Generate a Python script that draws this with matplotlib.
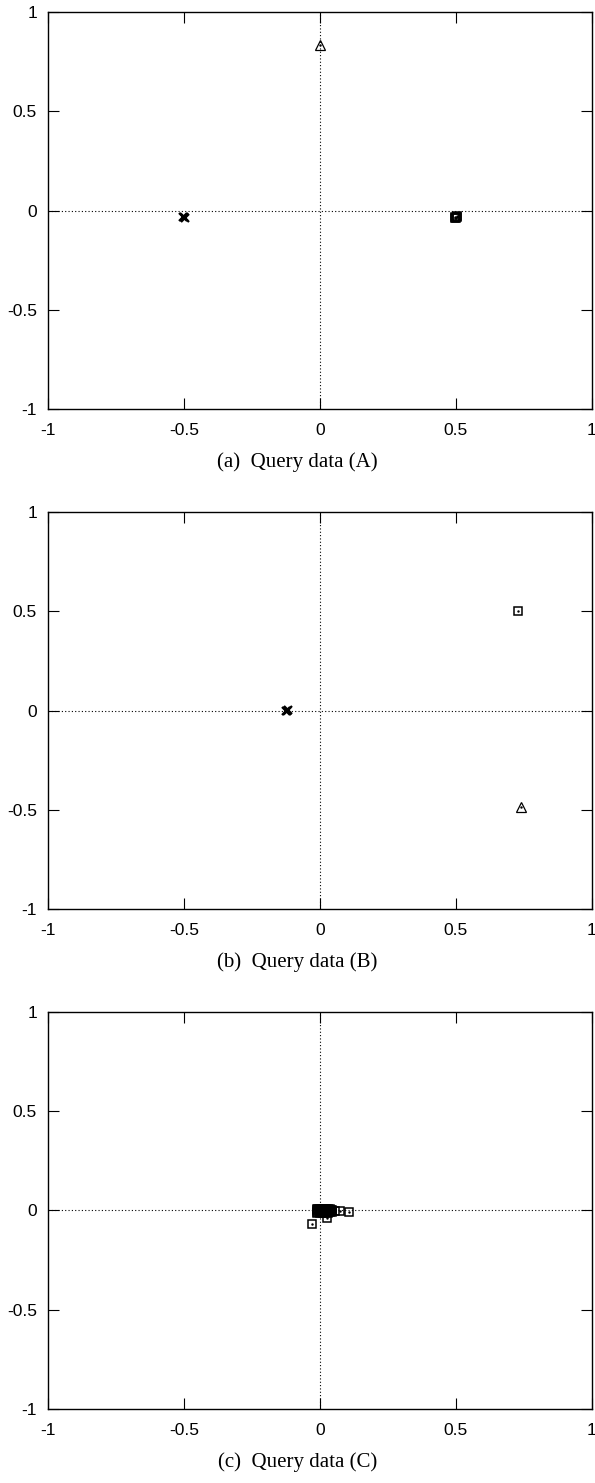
import matplotlib
matplotlib.use("Agg")
import matplotlib.pyplot as plt

# ============================================================
# DATA
# ============================================================

# panel (a)
a_cross_x = [-0.5, -0.497, -0.503]
a_cross_y = [-0.035, -0.037, -0.033]
a_square_x = [0.495, 0.5, 0.505, 0.498, 0.503]
a_square_y = [-0.035, -0.04, -0.03, -0.038, -0.033]
a_tri_x = [0.0]
a_tri_y = [0.835]

# panel (b)
b_cross_x = [-0.121, -0.118, -0.124]
b_cross_y = [0.0, 0.002, -0.002]
b_square_x = [0.728]
b_square_y = [0.503]
b_tri_x = [0.739]
b_tri_y = [-0.487]

# panel (c)
c_cross_x = [0.0]
c_cross_y = [0.0]
c_square_x = [-0.012, -0.006, 0.0, 0.006, 0.012, 0.018, 0.024, 0.03, 0.036, 0.042,
              0.045, -0.012, -0.006, 0.0, 0.006, 0.012, 0.018, 0.024, 0.03, 0.036,
              0.042, -0.012, -0.004, 0.004, 0.012, 0.02, 0.028, 0.036, 0.044,
              -0.01, 0.0, 0.01, 0.02, 0.03,
              0.074, 0.107, 0.026, -0.029, 0.055]
c_square_y = [0.01, 0.01, 0.01, 0.01, 0.009, 0.009, 0.008, 0.007, 0.006, 0.004,
              0.002, 0.0, 0.0, 0.0, 0.0, 0.0, -0.001, -0.001, -0.002, -0.003,
              -0.004, -0.01, -0.01, -0.01, -0.009, -0.008, -0.008, -0.007, -0.006,
              -0.015, -0.015, -0.014, -0.013, -0.012,
              -0.005, -0.01, -0.04, -0.07, -0.002]
c_tri_x = [0.002]
c_tri_y = [0.001]

captions = ["(a)  Query data (A)", "(b)  Query data (B)", "(c)  Query data (C)"]
ticks = [-1, -0.5, 0, 0.5, 1]
tick_labels = ["-1", "-0.5", "0", "0.5", "1"]

panels = [
    (a_cross_x, a_cross_y, a_square_x, a_square_y, a_tri_x, a_tri_y),
    (b_cross_x, b_cross_y, b_square_x, b_square_y, b_tri_x, b_tri_y),
    (c_cross_x, c_cross_y, c_square_x, c_square_y, c_tri_x, c_tri_y),
]

# ============================================================
# FIGURE
# ============================================================

fig = plt.figure(figsize=(5.95, 14.83), dpi=100)

bottoms = [0.7242, 0.3870, 0.0499]
caption_y = [0.6885, 0.3513, 0.0142]

for i, (cx, cy, sx, sy, tx, ty) in enumerate(panels):
    ax = fig.add_axes([0.0807, bottoms[i], 0.914, 0.2677])
    ax.set_xlim(-1, 1)
    ax.set_ylim(-1, 1)

    ax.axhline(0, color="black", linestyle=(0, (1, 2)), linewidth=0.8, zorder=1)
    ax.axvline(0, color="black", linestyle=(0, (1, 2)), linewidth=0.8, zorder=1)

    ax.plot(sx, sy, linestyle="none", marker="s", markersize=6,
            markerfacecolor="none", markeredgecolor="black", markeredgewidth=1.1, zorder=3)
    ax.plot(sx, sy, linestyle="none", marker=".", markersize=1.5, color="black", zorder=3)
    ax.plot(tx, ty, linestyle="none", marker="^", markersize=6.5,
            markerfacecolor="none", markeredgecolor="black", markeredgewidth=0.9, zorder=3)
    ax.plot(tx, ty, linestyle="none", marker=".", markersize=1.5, color="black", zorder=3)
    ax.plot(cx, cy, linestyle="none", marker="x", markersize=6,
            color="black", markeredgewidth=1.6, zorder=4)

    ax.set_xticks(ticks)
    ax.set_xticklabels(tick_labels, fontfamily="Liberation Sans", fontsize=12.5)
    ax.set_yticks(ticks)
    ax.set_yticklabels(tick_labels, fontfamily="Liberation Sans", fontsize=12.5)
    ax.tick_params(direction="in", length=8, width=0.8, top=True, right=True)
    ax.tick_params(axis="x", pad=10)
    ax.tick_params(axis="y", pad=8)
    for s in ax.spines.values():
        s.set_linewidth(1.0)

    fig.text(0.5, caption_y[i], captions[i], ha="center", va="center",
             fontfamily="Liberation Serif", fontsize=15)

fig.savefig("out.png", dpi=100)
